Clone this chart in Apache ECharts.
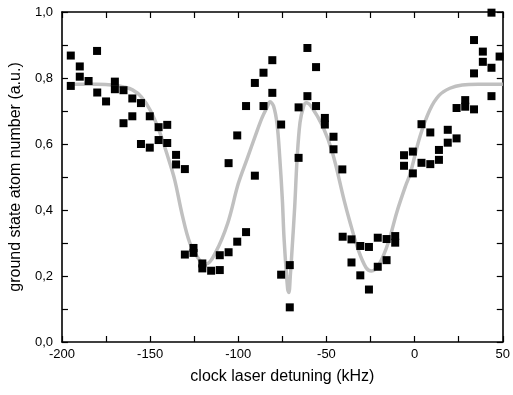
<!DOCTYPE html>
<html>
<head>
<meta charset="utf-8">
<script src="https://cdn.jsdelivr.net/npm/echarts@6/dist/echarts.min.js"></script>
<style>
html,body{margin:0;padding:0;background:#fff;}
#chart{width:513px;height:395px;}
</style>
</head>
<body>
<div id="chart"></div>
<script>
// Measured data points (detuning in kHz, ground state atom number a.u.)
var detuning = [-195.0,-195.0,-189.9,-189.9,-184.9,-180.1,-180.0,-175.0,-170.0,-170.0,-165.1,-165.1,-160.1,-160.1,-155.2,-155.2,-150.2,-150.2,-145.2,-145.2,-140.3,-140.3,-135.3,-135.3,-130.3,-130.3,-125.4,-125.4,-120.4,-120.4,-115.4,-110.5,-110.5,-105.5,-105.5,-100.6,-100.6,-95.6,-95.6,-90.6,-90.6,-85.7,-85.7,-80.7,-80.7,-75.7,-75.7,-70.8,-70.8,-65.8,-65.8,-60.8,-60.8,-55.9,-55.9,-50.9,-50.9,-46.0,-46.0,-41.0,-40.8,-35.8,-35.8,-30.8,-30.8,-25.9,-25.9,-20.9,-20.9,-15.9,-15.9,-11.0,-11.0,-6.0,-6.0,-1.0,-1.0,3.9,3.9,8.9,8.9,13.8,13.8,18.8,18.8,23.8,23.8,28.7,28.7,33.7,33.7,33.7,38.7,38.7,43.6,43.6,43.6,48.2];
var atomNumber = [0.868,0.776,0.835,0.804,0.791,0.882,0.756,0.729,0.789,0.766,0.763,0.663,0.738,0.684,0.724,0.600,0.684,0.589,0.651,0.612,0.658,0.603,0.567,0.538,0.524,0.265,0.285,0.270,0.238,0.223,0.216,0.218,0.263,0.272,0.542,0.304,0.626,0.333,0.715,0.504,0.785,0.816,0.715,0.854,0.755,0.659,0.204,0.233,0.105,0.558,0.711,0.891,0.745,0.833,0.715,0.679,0.659,0.622,0.584,0.523,0.319,0.311,0.241,0.291,0.202,0.288,0.159,0.316,0.228,0.312,0.248,0.321,0.301,0.566,0.534,0.577,0.511,0.660,0.543,0.635,0.539,0.582,0.552,0.643,0.604,0.617,0.709,0.733,0.713,0.705,0.814,0.915,0.880,0.849,0.831,0.745,0.998,0.865];

// Fit curve
var fitX = [-197,-180,-170,-165,-160,-155,-150,-145,-140,-136,-132,-127.4,-122,-118,-113,-106,-100,-95,-90,-86.5,-83.5,-82,-80,-78,-76.5,-75,-74,-72,-71.3,-70.5,-69.4,-68,-66.7,-65,-63,-61.5,-58.5,-52,-46.5,-40,-37,-32,-27.5,-24.5,-20,-15,-10,-5,-2.5,3,8.6,14,20,27,36,50];
var fitY = [0.781,0.781,0.778,0.773,0.764,0.743,0.703,0.642,0.562,0.49,0.39,0.299,0.248,0.237,0.27,0.36,0.48,0.555,0.63,0.68,0.713,0.728,0.715,0.66,0.56,0.43,0.31,0.16,0.15,0.20,0.289,0.41,0.55,0.665,0.713,0.725,0.713,0.652,0.572,0.43,0.37,0.28,0.225,0.215,0.237,0.3,0.395,0.475,0.51,0.622,0.703,0.748,0.769,0.779,0.781,0.781];

var xTitle = 'clock laser detuning (kHz)';
var yTitle = 'ground state atom number (a.u.)';

var scatterData = detuning.map(function(x,i){return [x, atomNumber[i]];});
var fitData = fitX.map(function(x,i){return [x, fitY[i]];});

var font = 'Liberation Sans, Arial, sans-serif';
var axisLineStyle = {color:'#000', width:1.6};
var tickStyle = {show:true, inside:true, length:6, lineStyle:{color:'#000', width:1.2}};

var chart = echarts.init(document.getElementById('chart'));
chart.setOption({
  animation:false,
  backgroundColor:'#fff',
  grid:{left:55, right:6, top:12, bottom:53},
  xAxis:[{
    type:'value', min:-200, max:50, interval:25, position:'bottom',
    axisLine:{show:true, onZero:false, lineStyle:axisLineStyle},
    axisTick:tickStyle,
    splitLine:{show:false},
    axisLabel:{color:'#000', fontFamily:font, fontSize:13, margin:6,
      formatter:function(v){return (v % 50 === 0) ? String(v) : '';}},
    name:xTitle, nameLocation:'middle', nameGap:27,
    nameTextStyle:{color:'#000', fontFamily:font, fontSize:16}
  },{
    type:'value', min:-200, max:50, interval:25, position:'top',
    axisLine:{show:true, onZero:false, lineStyle:axisLineStyle},
    axisTick:tickStyle,
    splitLine:{show:false}, axisLabel:{show:false}
  }],
  yAxis:[{
    type:'value', min:0, max:1, interval:0.1, position:'left',
    axisLine:{show:true, onZero:false, lineStyle:axisLineStyle},
    axisTick:tickStyle,
    splitLine:{show:false},
    axisLabel:{color:'#000', fontFamily:font, fontSize:13, margin:9,
      formatter:function(v){var r=Math.round(v*10); return (r % 2 === 0) ? (r/10).toFixed(1).replace('.', ',') : '';}},
    name:yTitle, nameLocation:'middle', nameGap:31, nameRotate:90,
    nameTextStyle:{color:'#000', fontFamily:font, fontSize:16}
  },{
    type:'value', min:0, max:1, interval:0.1, position:'right',
    axisLine:{show:true, onZero:false, lineStyle:axisLineStyle},
    axisTick:tickStyle,
    splitLine:{show:false}, axisLabel:{show:false}
  }],
  series:[{
    type:'line', data:fitData, xAxisIndex:0, yAxisIndex:0,
    smooth:0.35, showSymbol:false, symbol:'none',
    lineStyle:{color:'#c0c0c0', width:3.5}, z:2, silent:true
  },{
    type:'scatter', data:scatterData, xAxisIndex:0, yAxisIndex:0,
    symbol:'rect', symbolSize:8, itemStyle:{color:'#000', opacity:1}, z:3
  }]
});
</script>
</body>
</html>
